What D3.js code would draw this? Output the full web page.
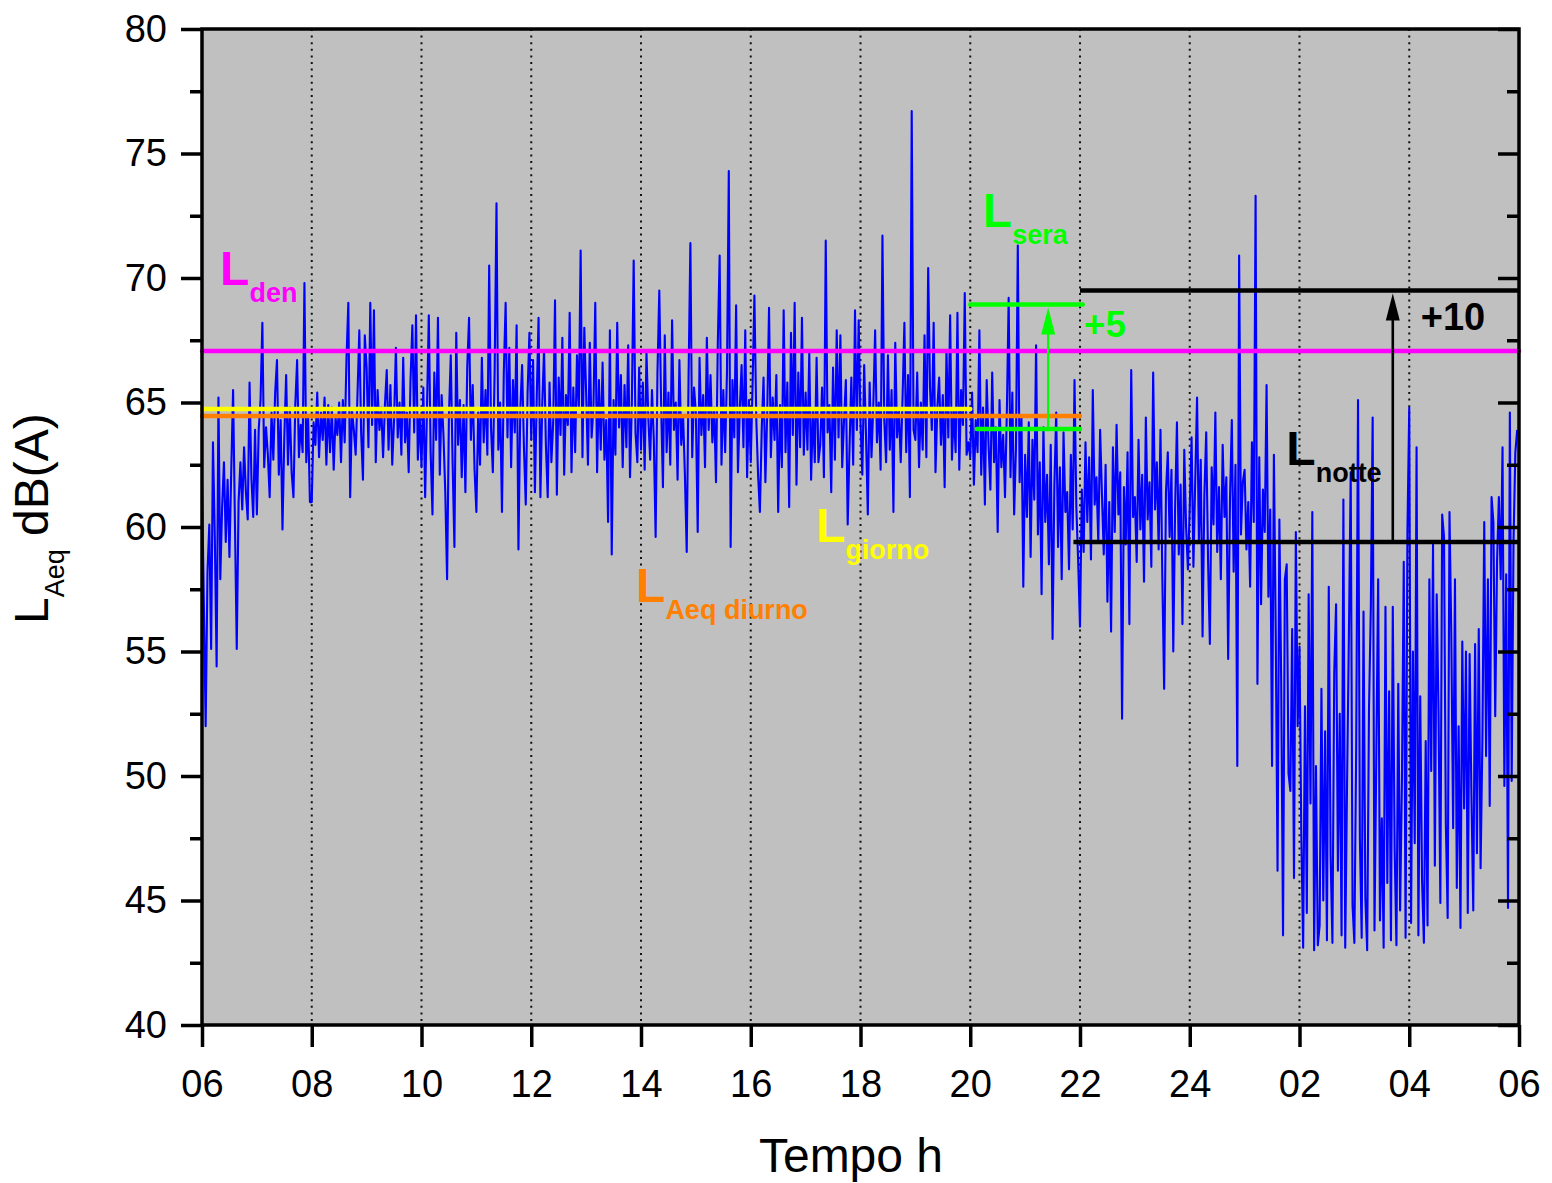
<!DOCTYPE html>
<html>
<head>
<meta charset="utf-8">
<script src="https://cdn.jsdelivr.net/npm/d3@7"></script>
<style>
    body { margin: 0; background: #fff; }
    svg text { font-family: "Liberation Sans", Arial, sans-serif; }
</style>
</head>
<body>
<svg id="chart" width="1552" height="1183"></svg>
<script>
// Time axis: hours from 06 to 06 next day
const hourTicks = [6, 8, 10, 12, 14, 16, 18, 20, 22, 24, 26, 28, 30];
const hourLabels = ['06', '08', '10', '12', '14', '16', '18', '20', '22', '24', '02', '04', '06'];
const levelTicks = [40, 45, 50, 55, 60, 65, 70, 75, 80];

// LAeq samples, one every 2 minutes
const sampleStep = 2 / 60;
const dayLevels = [
    // 06
    61.8, 57.0, 52.0, 58.2, 60.1, 55.1, 63.4, 59.6, 54.4, 65.2, 57.9, 60.8, 62.6, 59.4, 61.9, 58.8, 62.3, 65.5, 60.2, 55.1, 61.0, 62.6, 60.7, 63.2, 61.4, 60.3, 65.8, 62.0, 60.4, 63.9,
    // 07
    60.5, 63.9, 65.1, 68.2, 62.4, 64.0, 62.9, 61.2, 64.6, 62.7, 65.4, 66.7, 62.1, 64.3, 59.9, 63.6, 66.1, 62.5, 64.8, 62.2, 61.2, 64.9, 66.7, 62.8, 64.1, 63.0, 69.8, 62.6, 64.4, 61.0,
    // 08
    61.0, 64.2, 63.3, 65.4, 62.8, 64.6, 63.5, 65.2, 62.5, 64.9, 63.0, 64.8, 62.3, 64.4, 63.7, 65.0, 62.6, 65.1, 63.4, 66.8, 69.0, 61.2, 64.7, 63.9, 62.9, 65.3, 67.9, 63.8, 61.9, 67.7,
    // 09
    66.4, 63.2, 69.0, 64.1, 68.7, 62.6, 65.5, 63.9, 64.8, 62.8, 64.9, 66.3, 63.1, 65.7, 62.5, 64.3, 67.2, 63.6, 65.0, 62.9, 66.8, 63.4, 64.6, 62.2, 65.9, 68.1, 63.8, 68.5, 62.7, 64.5,
    // 10
    62.4, 65.6, 61.2, 64.8, 68.5, 63.0, 60.5, 66.2, 63.5, 68.4, 62.1, 65.3, 63.7, 61.4, 57.9, 64.5, 66.9, 62.6, 59.2, 67.8, 63.3, 65.1, 62.0, 64.9, 61.4, 66.4, 68.4, 63.5, 65.7, 62.3,
    // 11
    60.6, 64.6, 62.5, 66.8, 63.4, 65.5, 62.9, 70.5, 64.0, 62.2, 66.3, 73.0, 63.1, 65.0, 60.6, 66.2, 69.0, 63.6, 67.2, 62.4, 65.9, 63.8, 68.1, 59.1, 64.7, 66.5, 63.2, 60.9, 65.4, 67.8,
    // 12
    63.5, 66.7, 61.4, 65.2, 68.4, 61.2, 64.9, 67.1, 63.3, 61.2, 65.8, 62.6, 64.2, 69.1, 61.3, 66.0, 63.7, 67.6, 62.1, 65.3, 64.1, 68.6, 62.2, 65.6, 63.0, 66.9, 64.7, 71.1, 62.8, 68.0,
    // 13
    65.4, 62.5, 67.4, 63.6, 64.8, 69.0, 62.2, 65.9, 63.1, 66.6, 62.7, 64.3, 60.2, 67.9, 58.9, 65.1, 62.9, 68.2, 64.0, 66.1, 62.4, 65.7, 63.2, 67.3, 62.0, 65.0, 70.7, 63.8, 62.6, 66.4,
    // 14
    63.1, 65.8, 62.3, 67.0, 64.4, 62.7, 65.5, 63.5, 59.6, 66.2, 69.5, 64.9, 61.6, 67.7, 63.0, 65.4, 62.5, 68.3, 63.9, 65.0, 61.9, 66.7, 63.3, 64.5, 62.1, 59.0, 66.0, 71.4, 62.8, 65.6,
    // 15
    64.6, 59.8, 66.8, 63.7, 65.3, 62.4, 67.6, 63.9, 66.1, 63.4, 64.8, 61.8, 67.4, 70.9, 62.5, 65.5, 63.0, 66.2, 74.3, 59.2, 65.9, 63.6, 68.9, 62.2, 64.7, 66.5, 63.2, 67.9, 62.0, 65.1,
    // 16
    62.6, 65.7, 69.3, 64.4, 62.1, 60.6, 63.9, 66.0, 61.8, 64.6, 68.8, 62.8, 65.2, 63.5, 66.1, 60.6, 64.9, 62.4, 68.7, 63.0, 65.8, 60.8, 67.8, 63.7, 69.0, 61.7, 66.2, 63.2, 68.4, 62.9,
    // 17
    65.4, 63.1, 67.0, 61.9, 64.7, 62.6, 66.8, 62.6, 63.3, 65.6, 62.0, 71.5, 63.8, 64.9, 61.4, 66.4, 62.7, 67.9, 63.6, 67.7, 62.4, 64.3, 65.9, 60.1, 63.2, 66.0, 62.5, 68.7, 63.9, 68.3,
    // 18
    64.2, 62.1, 66.5, 63.7, 60.5, 65.8, 62.8, 64.9, 67.9, 63.4, 65.0, 62.3, 71.7, 64.3, 62.6, 66.9, 63.1, 65.5, 60.6, 67.4, 63.6, 64.7, 62.6, 65.2, 68.2, 63.0, 66.1, 61.2, 76.7, 63.9,
    // 19
    63.5, 66.2, 62.4, 65.0, 63.1, 67.7, 62.8, 70.4, 65.6, 63.9, 68.2, 62.2, 64.8, 66.0, 63.3, 65.3, 61.6, 67.1, 63.6, 68.5, 62.7, 64.7, 63.0, 68.6, 62.3, 65.5, 64.1, 69.4, 62.9, 63.4
];
const eveningLevels = [
    // 20
    62.8, 65.4, 61.7, 64.3, 63.0, 67.9, 62.1, 64.8, 60.9, 65.9, 63.3, 61.5, 66.2, 62.6, 64.0, 59.8, 65.1, 62.4, 63.7, 61.2, 64.6, 69.2, 62.0, 65.4, 60.5, 63.2, 71.3, 61.8, 64.4, 57.6,
    // 21
    62.9, 60.4, 64.2, 58.8, 63.5, 61.1, 67.3, 59.7, 62.6, 57.3, 64.0, 60.2, 62.1, 58.5, 63.3, 55.5, 61.7, 64.6, 59.2, 62.4, 57.9, 63.8, 60.6, 61.4, 58.3, 62.9, 59.9, 65.9, 60.8, 58.6
];
const nightLevels = [
    // 22
    56.0, 61.5, 59.0, 63.4, 60.2, 62.8, 58.7, 65.5, 60.9, 62.0, 59.4, 63.9, 61.3, 58.9, 62.5, 57.0, 61.0, 55.8, 63.2, 59.8, 64.1, 60.5, 62.2, 52.3, 61.6, 59.3, 63.0, 56.1, 66.3, 60.4,
    // 23
    61.2, 58.6, 63.5, 59.9, 62.1, 57.8, 64.4, 60.3, 61.8, 58.4, 66.2, 60.7, 62.6, 59.1, 63.9, 58.0, 53.5, 61.4, 63.0, 59.6, 62.3, 55.0, 60.8, 64.2, 58.9, 61.7, 56.1, 63.1, 60.0, 58.3,
    // 24
    60.8, 63.6, 58.4, 61.9, 65.2, 59.5, 62.7, 55.6, 61.3, 63.8, 58.7, 55.3, 62.4, 60.1, 64.6, 59.0, 61.6, 57.9, 63.3, 60.4, 62.0, 54.7, 61.1, 64.3, 58.2, 62.5, 50.4, 70.9, 59.7, 61.8,
    // 01
    62.3, 59.1, 61.0, 57.6, 63.4, 60.2, 73.3, 53.7, 62.8, 56.9, 61.5, 59.8, 65.7, 57.2, 60.7, 50.4, 62.9, 55.8, 46.2, 60.3, 53.7, 43.6, 57.9, 58.5, 50.1, 49.4, 55.9, 45.9, 59.8, 52.0,
    // 02
    55.2, 47.6, 43.1, 52.8, 44.5, 57.3, 48.9, 60.6, 43.0, 50.4, 43.2, 44.0, 53.5, 45.0, 51.8, 43.4, 57.6, 46.8, 43.3, 54.2, 56.9, 46.2, 52.5, 43.6, 61.1, 43.1, 49.7, 55.6, 62.2, 44.8,
    // 03
    43.3, 51.2, 65.1, 47.5, 43.5, 56.6, 45.1, 43.0, 52.7, 56.8, 64.4, 43.8, 50.9, 57.9, 44.2, 48.3, 43.1, 56.8, 45.7, 53.4, 43.4, 56.8, 47.1, 43.2, 53.7, 44.6, 49.8, 58.6, 43.5, 59.8,
    // 04
    64.8, 44.1, 55.0, 47.3, 63.2, 43.6, 53.2, 45.8, 43.3, 51.4, 44.0, 57.9, 50.2, 59.3, 46.4, 57.3, 52.6, 44.9, 60.5, 59.6, 48.1, 44.3, 60.6, 55.6, 47.9, 57.9, 45.5, 52.0, 43.9, 55.4,
    // 05
    48.7, 55.0, 44.5, 54.9, 49.2, 44.6, 55.3, 46.9, 55.9, 46.3, 51.5, 60.2, 50.8, 57.9, 48.8, 61.2, 60.2, 52.4, 58.6, 61.2, 57.9, 63.2, 49.6, 58.1, 44.7, 64.6, 49.8, 59.4, 63.0, 63.9
];

// Reference levels dB(A) and the hours they cover
const refNames = ['den', 'giorno', 'aeqDiurno', 'sera', 'seraPlus5', 'notte', 'nottePlus10'];
const refValues = [67.07, 64.74, 64.46, 63.94, 68.94, 59.4, 69.5];
const refStart = [6, 6, 6, 20.12, 20, 21.88, 22];
const refEnd = [30, 20, 22, 22, 22.05, 30, 30];

const margin = { top: 29, right: 33, bottom: 158, left: 202 };
const width = 1552 - margin.left - margin.right;
const height = 1183 - margin.top - margin.bottom;

const svg = d3.select('#chart');
const g = svg.append('g').attr('transform', `translate(${margin.left},${margin.top})`);

const x = d3.scaleLinear().domain([6, 30]).range([0, width]);
const y = d3.scaleLinear().domain([40, 80]).range([height, 0]);

// plot background
g.append('rect')
    .attr('width', width)
    .attr('height', height)
    .attr('fill', '#c0c0c0');

// dotted vertical grid
g.selectAll('.grid')
    .data(hourTicks.slice(1, -1))
    .enter()
    .append('line')
    .attr('x1', d => x(d)).attr('x2', d => x(d))
    .attr('y1', 0).attr('y2', height)
    .attr('stroke', '#111')
    .attr('stroke-width', 2)
    .attr('stroke-dasharray', '2,4.6');

// measured series
const samples = dayLevels.concat(eveningLevels, nightLevels)
    .map((v, i) => ({ t: 6 + i * sampleStep, v: v }));

g.append('path')
    .datum(samples)
    .attr('fill', 'none')
    .attr('stroke', '#0000ff')
    .attr('stroke-width', 2.1)
    .attr('stroke-linejoin', 'round')
    .attr('d', d3.line().x(d => x(d.t)).y(d => y(d.v)));

// reference level lines
const refColors = {
    den: '#ff00ff', giorno: '#ffff00', aeqDiurno: '#ff8000',
    sera: '#00ff00', seraPlus5: '#00ff00', notte: '#000000', nottePlus10: '#000000'
};
const refs = refNames.map((n, i) => ({ name: n, v: refValues[i], t0: refStart[i], t1: refEnd[i] }));

g.selectAll('.ref')
    .data(refs)
    .enter()
    .append('line')
    .attr('x1', d => x(d.t0)).attr('x2', d => x(d.t1))
    .attr('y1', d => y(d.v)).attr('y2', d => y(d.v))
    .attr('stroke', d => refColors[d.name])
    .attr('stroke-width', 4.5)
    .attr('stroke-linecap', d => d.name === 'nottePlus10' || d.name === 'notte' ? 'butt' : 'round');

// +5 / +10 arrows
function arrow(t, from, to, color, w) {
    const ax = x(t);
    const yTip = y(to) + 3;
    g.append('line')
        .attr('x1', ax).attr('x2', ax)
        .attr('y1', y(from)).attr('y2', yTip + 20)
        .attr('stroke', color)
        .attr('stroke-width', w);
    g.append('path')
        .attr('d', `M${ax},${yTip}L${ax - 7},${yTip + 27}L${ax + 7},${yTip + 27}Z`)
        .attr('fill', color);
}
arrow(21.42, refValues[3], refValues[4], '#00ff00', 2.3);
arrow(27.7, refValues[5], refValues[6], '#000000', 2.6);

// level labels
function levelLabel(main, sub, t, v, color) {
    const txt = g.append('text')
        .attr('x', x(t))
        .attr('y', y(v))
        .attr('fill', color)
        .style('font-weight', 'bold')
        .style('font-size', '48px');
    txt.append('tspan').text(main);
    if (sub) {
        txt.append('tspan')
            .attr('dy', 17)
            .style('font-size', '27px')
            .text(sub);
    }
}
levelLabel('L', 'den', 6.33, 69.72, '#ff00ff');
levelLabel('L', 'sera', 20.23, 72.05, '#00ff00');
levelLabel('L', 'notte', 25.76, 62.49, '#000000');
levelLabel('L', 'giorno', 17.19, 59.40, '#ffff00');
levelLabel('L', 'Aeq diurno', 13.91, 56.99, '#ff8000');

g.append('text')
    .attr('x', x(22.07)).attr('y', y(67.63))
    .attr('fill', '#00ff00')
    .style('font-weight', 'bold').style('font-size', '37px')
    .text('+5');
g.append('text')
    .attr('x', x(28.21)).attr('y', y(67.91))
    .attr('fill', '#000')
    .style('font-weight', 'bold').style('font-size', '38px')
    .text('+10');

// frame
g.append('rect')
    .attr('width', width)
    .attr('height', height)
    .attr('fill', 'none')
    .attr('stroke', '#000')
    .attr('stroke-width', 3.5);

// axes
function styleAxis(sel) {
    sel.select('.domain').remove();
    sel.selectAll('.tick line').attr('stroke', '#000').attr('stroke-width', 3.5);
    sel.selectAll('.tick text')
        .attr('fill', '#000')
        .style('font-family', '"Liberation Sans", Arial, sans-serif')
        .style('font-size', '38px');
}

g.append('g')
    .call(d3.axisLeft(y).tickValues(levelTicks).tickFormat(d3.format('d')).tickSize(21).tickPadding(14))
    .call(styleAxis);
g.append('g')
    .call(d3.axisLeft(y).tickValues(d3.range(42.5, 80, 5)).tickFormat('').tickSize(12))
    .call(styleAxis);
g.append('g')
    .attr('transform', `translate(${width},0)`)
    .call(d3.axisLeft(y).tickValues(levelTicks).tickFormat('').tickSize(21))
    .call(styleAxis);
g.append('g')
    .attr('transform', `translate(${width},0)`)
    .call(d3.axisLeft(y).tickValues(d3.range(42.5, 80, 5)).tickFormat('').tickSize(12))
    .call(styleAxis);
g.append('g')
    .attr('transform', `translate(0,${height})`)
    .call(d3.axisBottom(x).tickValues(hourTicks).tickFormat((d, i) => hourLabels[i]).tickSize(22).tickPadding(23))
    .call(styleAxis);

// axis titles
svg.append('text')
    .attr('x', 851)
    .attr('y', 1172)
    .attr('text-anchor', 'middle')
    .style('font-size', '48px')
    .text('Tempo h');

const yTitle = svg.append('text')
    .attr('transform', 'translate(48,624) rotate(-90)')
    .style('font-size', '48px');
yTitle.append('tspan').text('L');
yTitle.append('tspan').attr('dy', 16).style('font-size', '27px').text('Aeq');
yTitle.append('tspan').attr('dy', -16).text(' dB(A)');
</script>
</body>
</html>
